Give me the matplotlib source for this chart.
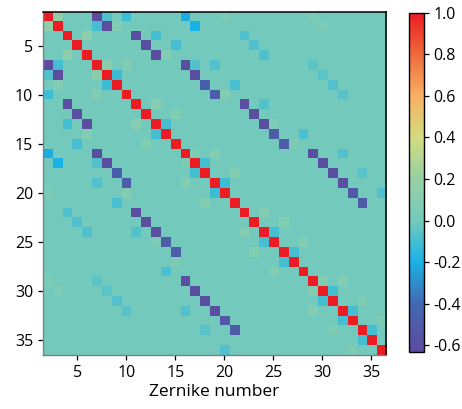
import numpy as np
import matplotlib.pyplot as plt
from matplotlib.colors import LinearSegmentedColormap

plt.rcParams['font.family'] = ['Open Sans', 'DejaVu Sans']
plt.rcParams['axes.unicode_minus'] = False

modes = np.arange(2, 37)

# strongly anticorrelated mode pairs (upper triangle)
strong_i = [2, 3, 4, 5, 6, 7, 8, 9, 10, 11, 12, 13, 14, 15, 16, 17, 18, 19, 20, 21]
strong_j = [7, 8, 11, 12, 13, 16, 17, 18, 19, 22, 23, 24, 25, 26, 29, 30, 31, 32, 33, 34]
strong_v = [-0.62, -0.62, -0.6, -0.6, -0.6, -0.6, -0.6, -0.47, -0.47, -0.6,
            -0.6, -0.58, -0.48, -0.48, -0.6, -0.6, -0.6, -0.6, -0.52, -0.5]

# weaker couplings (upper triangle)
weak_i = [2, 2, 2, 2, 3, 3, 3, 4, 4, 4, 5, 5, 6, 6, 7, 7, 7, 7, 8, 9, 10,
          11, 11, 12, 13, 16, 16, 17, 18, 19, 22, 23, 24, 26, 25, 29, 29,
          30, 31, 32, 33, 34, 2, 2, 3, 7, 8, 9, 10, 14, 15, 16, 18, 20, 13]
weak_j = [3, 8, 10, 16, 7, 9, 17, 6, 13, 22, 15, 23, 14, 24, 8, 10, 17, 19, 9, 21, 20,
          13, 24, 15, 14, 17, 19, 18, 21, 20, 24, 26, 25, 27, 28, 30, 32,
          31, 34, 33, 36, 35, 20, 29, 30, 29, 30, 31, 32, 28, 27, 32, 34, 36, 25]
weak_v = [0.15, -0.08, -0.12, -0.22, -0.1, 0.08, -0.2, 0.15, -0.1, -0.08, -0.1, -0.08,
          0.08, -0.08, 0.12, 0.08, -0.07, -0.08, -0.12, -0.09, 0.08,
          0.1, -0.07, 0.08, -0.1, 0.06, 0.08, -0.1, 0.08, -0.12, 0.08, 0.08,
          -0.1, -0.1, 0.08, 0.08, 0.08, -0.1, 0.06, -0.1, 0.06, -0.1,
          0.04, 0.05, 0.05, -0.05, -0.05, -0.07, -0.06, -0.09, 0.06, -0.08,
          -0.06, -0.07, 0.05]

corr = np.eye(len(modes))
for i, j, v in zip(strong_i + weak_i, strong_j + weak_j, strong_v + weak_v):
    corr[i - 2, j - 2] = v
    corr[j - 2, i - 2] = v

cmap = LinearSegmentedColormap.from_list('zern', [
    (0.0, '#5d4b9e'), (0.141, '#4368b2'), (0.264, '#19b3e6'),
    (0.387, '#74cabc'), (0.509, '#98d0a4'), (0.632, '#d3dc7f'),
    (0.755, '#f7b062'), (0.877, '#ef6b3b'), (1.0, '#ec1c24')])

fig = plt.figure(figsize=(4.62, 4.09), dpi=100)
ax = fig.add_axes([0.093, 0.132, 0.7425, 0.839])
im = ax.imshow(corr, cmap=cmap, vmin=-0.63, vmax=1.0, interpolation='nearest',
               extent=(modes[0] - 0.5, modes[-1] + 0.5, modes[-1] + 0.5, modes[0] - 0.5),
               aspect='auto')
ax.set_xticks(np.arange(5, 37, 5))
ax.set_yticks(np.arange(5, 37, 5))
ax.tick_params(labelsize=11.5, length=3.5, width=0.9, color='black')
ax.set_xlabel('Zernike number', fontsize=12.5, labelpad=2)
for s in ['top', 'right']:
    ax.spines[s].set_color('black')
    ax.spines[s].set_linewidth(1.1)
for s in ['left', 'bottom']:
    ax.spines[s].set_color('#808080')
    ax.spines[s].set_linewidth(1.0)

cax = fig.add_axes([0.885, 0.140, 0.0325, 0.829])
cb = fig.colorbar(im, cax=cax, ticks=np.arange(-0.6, 1.01, 0.2))
cb.ax.set_yticklabels(['%.1f' % t for t in np.arange(-0.6, 1.01, 0.2)])
cb.ax.tick_params(labelsize=11.5, length=3.5, width=0.9)
cb.outline.set_linewidth(1.0)

fig.savefig('out.png', dpi=100)
